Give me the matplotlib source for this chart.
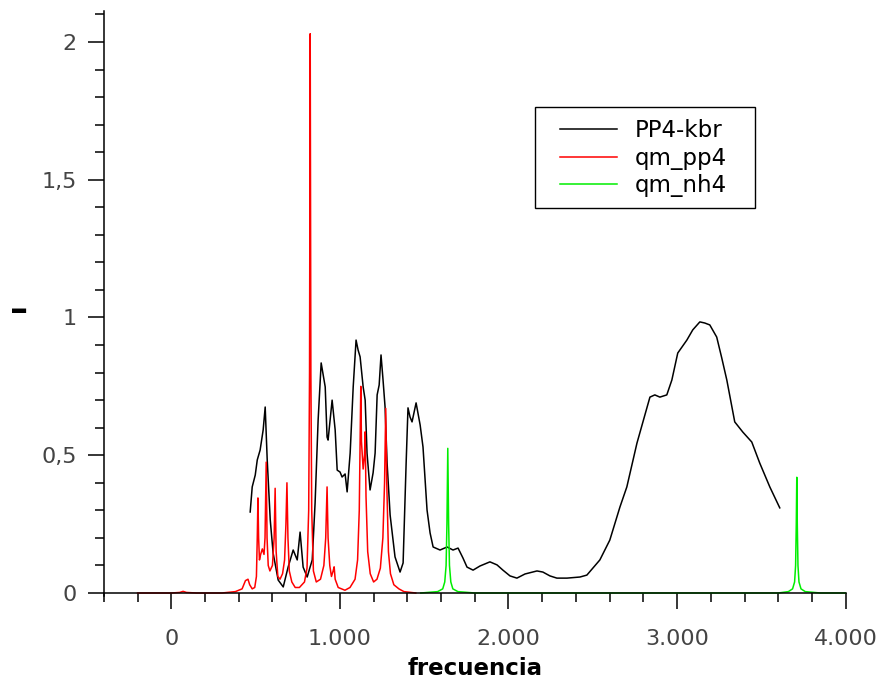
import matplotlib
matplotlib.use("Agg")
import matplotlib.pyplot as plt
from matplotlib.patches import Rectangle
from matplotlib.ticker import MultipleLocator, FuncFormatter

# PP4-kbr (measured spectrum)
kbr_x = [468, 480, 498, 510, 527, 545, 557, 569, 587, 604, 634, 664, 693, 723, 747, 764, 782, 806,
         836, 853, 871, 889, 913, 924, 930, 954, 972, 984, 1001, 1013, 1031, 1043, 1061, 1079, 1096,
         1108, 1120, 1138, 1150, 1161, 1179, 1197, 1209, 1221, 1233, 1244, 1256, 1268, 1280, 1298,
         1327, 1357, 1375, 1393, 1404, 1416, 1428, 1452, 1476, 1493, 1517, 1535, 1553, 1594, 1636,
         1671, 1701, 1730, 1754, 1790, 1831, 1890, 1932, 1967, 2009, 2050, 2098, 2169, 2204, 2246,
         2287, 2347, 2424, 2465, 2542, 2601, 2661, 2702, 2762, 2809, 2839, 2868, 2898, 2939, 2969,
         3004, 3058, 3093, 3135, 3164, 3194, 3235, 3265, 3295, 3342, 3390, 3443, 3490, 3550, 3609]
kbr_y = [0.294, 0.385, 0.428, 0.483, 0.519, 0.592, 0.675, 0.483, 0.265, 0.145, 0.047, 0.022, 0.094,
         0.156, 0.120, 0.221, 0.094, 0.058, 0.120, 0.327, 0.628, 0.835, 0.748, 0.566, 0.555, 0.700,
         0.592, 0.446, 0.439, 0.421, 0.432, 0.367, 0.508, 0.748, 0.918, 0.882, 0.857, 0.748, 0.700,
         0.508, 0.374, 0.436, 0.508, 0.719, 0.755, 0.864, 0.773, 0.675, 0.472, 0.283, 0.131, 0.076,
         0.109, 0.472, 0.672, 0.639, 0.621, 0.690, 0.610, 0.530, 0.301, 0.218, 0.167, 0.156, 0.167,
         0.156, 0.163, 0.127, 0.094, 0.083, 0.098, 0.113, 0.102, 0.083, 0.062, 0.054, 0.069, 0.080,
         0.076, 0.062, 0.054, 0.054, 0.058, 0.065, 0.120, 0.192, 0.312, 0.385, 0.544, 0.646, 0.711,
         0.719, 0.711, 0.719, 0.773, 0.871, 0.918, 0.955, 0.984, 0.980, 0.973, 0.929, 0.853, 0.773,
         0.621, 0.584, 0.548, 0.472, 0.385, 0.309]

# qm_pp4 (calculated)
pp4_x = [-200, 0, 50, 70, 90, 150, 300, 380, 420, 440, 455, 465, 480, 495, 505, 510, 514, 518, 523,
         530, 540, 550, 556, 563, 568, 575, 585, 600, 610, 616, 622, 632, 645, 660, 672, 680, 686,
         692, 700, 715, 735, 760, 790, 805, 815, 820, 824, 828, 833, 843, 860, 885, 905, 916, 924,
         930, 940, 950, 960, 966, 972, 990, 1030, 1060, 1090, 1105, 1115, 1124, 1128, 1138, 1146,
         1150, 1155, 1165, 1180, 1200, 1220, 1240, 1255, 1265, 1272, 1278, 1288, 1300, 1320, 1350,
         1380, 1450]
pp4_y = [0, 0, 0.002, 0.006, 0.002, 0, 0, 0.005, 0.015, 0.045, 0.05, 0.03, 0.015, 0.02, 0.06, 0.2,
         0.345, 0.2, 0.12, 0.14, 0.16, 0.14, 0.2, 0.475, 0.2, 0.1, 0.08, 0.1, 0.2, 0.38, 0.15, 0.06,
         0.05, 0.07, 0.12, 0.25, 0.40, 0.2, 0.08, 0.04, 0.02, 0.02, 0.04, 0.09, 0.3, 0.8, 2.03, 0.8,
         0.3, 0.08, 0.04, 0.05, 0.1, 0.2, 0.385, 0.2, 0.1, 0.06, 0.08, 0.095, 0.05, 0.02, 0.01, 0.02,
         0.05, 0.12, 0.3, 0.75, 0.55, 0.45, 0.5, 0.585, 0.35, 0.15, 0.07, 0.04, 0.05, 0.09, 0.2, 0.4,
         0.67, 0.4, 0.15, 0.07, 0.03, 0.015, 0.005, 0]

# qm_nh4 (calculated)
nh4_x = [1480, 1580, 1610, 1622, 1630, 1635, 1640, 1645, 1650, 1658, 1670, 1700, 1800, 3600, 3660,
         3685, 3697, 3703, 3707, 3710, 3713, 3717, 3723, 3735, 3760, 3850, 4000]
nh4_y = [0, 0.005, 0.015, 0.04, 0.1, 0.25, 0.525, 0.25, 0.1, 0.04, 0.015, 0.005, 0, 0, 0.005,
         0.015, 0.04, 0.1, 0.25, 0.42, 0.25, 0.1, 0.04, 0.015, 0.005, 0, 0]

plt.rcParams['font.family'] = 'DejaVu Sans'
plt.rcParams['font.size'] = 16

fig = plt.figure(figsize=(8.8, 6.78), dpi=100)
ax = fig.add_axes([0.118, 0.1205, 0.843, 0.8633])

ax.plot(kbr_x, kbr_y, color='black', lw=1.1, label='PP4-kbr')
ax.plot(pp4_x, pp4_y, color='#ff0000', lw=1.1, label='qm_pp4')
ax.plot(nh4_x, nh4_y, color='#00ee00', lw=1.1, label='qm_nh4')

ax.set_xlim(-400, 4000)
ax.set_ylim(-0.012, 2.1125)

for s in ['top', 'right']:
    ax.spines[s].set_visible(False)
ax.spines['bottom'].set_position(('data', 0))
ax.spines['left'].set_linewidth(1.1)
ax.spines['bottom'].set_linewidth(1.1)

ax.xaxis.set_major_locator(MultipleLocator(1000))
ax.xaxis.set_minor_locator(MultipleLocator(200))
ax.yaxis.set_major_locator(MultipleLocator(0.5))
ax.yaxis.set_minor_locator(MultipleLocator(0.1))


def fmt_x(v, pos):
    return f"{int(round(v)):,}".replace(',', '.')


def fmt_y(v, pos):
    s = f"{v:g}"
    return s.replace('.', ',')


ax.xaxis.set_major_formatter(FuncFormatter(fmt_x))
ax.yaxis.set_major_formatter(FuncFormatter(fmt_y))
ax.tick_params(which='major', length=11.5, width=1.1, labelsize=16, colors='black',
               labelcolor='#444444', pad=8)
ax.tick_params(axis='x', which='major', pad=14.5)
ax.tick_params(which='minor', length=6.5, width=1.1, colors='black')

ax.set_xlabel('frecuencia', fontsize=16.5, fontweight='bold', labelpad=5.5)

# y axis title is just a bold dash, drawn flat
fig.text(19 / 880, 1 - 311 / 678, '–', fontsize=26, fontweight='bold', rotation=0,
         ha='center', va='center')

leg = ax.legend(loc='upper left', bbox_to_anchor=(0.6233, 0.841), bbox_transform=fig.transFigure,
                borderaxespad=0, fontsize=16.5, handlelength=2.5, handletextpad=0.75,
                labelspacing=0.19, borderpad=0.5, frameon=False)
# legend frame drawn separately so its side padding can be wider than the top/bottom
fig.patches.append(Rectangle((535 / 880, 1 - 208 / 678), 220 / 880, 101 / 678,
                             transform=fig.transFigure, fill=False, edgecolor='black', lw=1.0))

fig.savefig('out.png', dpi=100)
